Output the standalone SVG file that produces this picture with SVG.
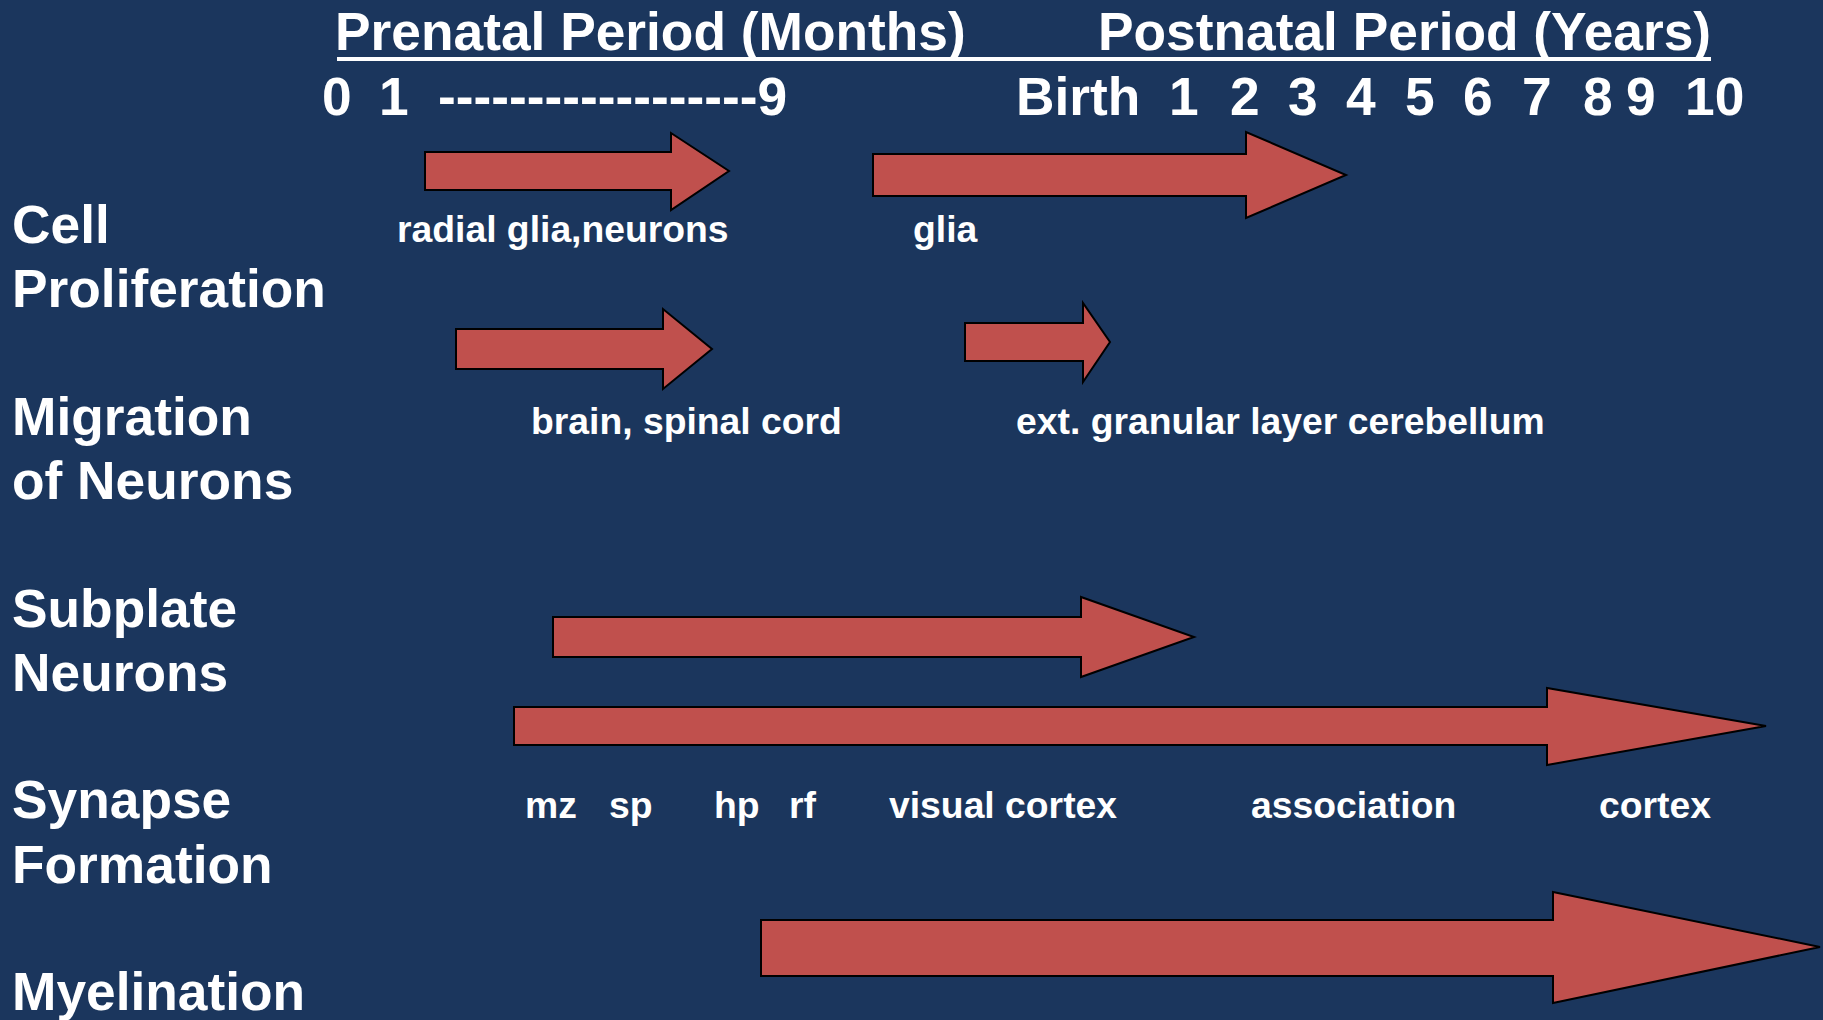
<svg xmlns="http://www.w3.org/2000/svg" width="1823" height="1020" viewBox="0 0 1823 1020">
<style>
text{font-family:"Liberation Sans",Arial,Helvetica,sans-serif;font-weight:bold;fill:#FFFFFF}
.big{font-size:53.3px}
.lbl{font-size:37.3px}
.arrow{fill:#C0504D;stroke:#000000;stroke-width:2;stroke-linejoin:miter}
</style>
<rect x="0" y="0" width="1823" height="1020" fill="#1B365D"/>
<g id="header">
<text class="big" x="335" y="50">Prenatal Period (Months)</text>
<text class="big" x="1098" y="50">Postnatal Period (Years)</text>
<rect x="337" y="57" width="1374" height="4" fill="#FFFFFF"/>
</g>
<g id="scale-prenatal">
<text class="big" x="322" y="115">0</text>
<text class="big" x="379" y="115">1</text>
<text class="big" x="438" y="115">------------------9</text>
</g>
<g id="scale-postnatal">
<text class="big" x="1016" y="115">Birth</text>
<text class="big" x="1169" y="115">1</text>
<text class="big" x="1230" y="115">2</text>
<text class="big" x="1288" y="115">3</text>
<text class="big" x="1346" y="115">4</text>
<text class="big" x="1405" y="115">5</text>
<text class="big" x="1463" y="115">6</text>
<text class="big" x="1522" y="115">7</text>
<text class="big" x="1583" y="115">8</text>
<text class="big" x="1626" y="115">9</text>
<text class="big" x="1685" y="115">10</text>
</g>
<g id="row-cell-proliferation">
<text class="big" x="12" y="243">Cell</text>
<text class="big" x="12" y="307">Proliferation</text>
</g>
<g id="row-migration">
<text class="big" x="12" y="435">Migration</text>
<text class="big" x="12" y="499">of Neurons</text>
</g>
<g id="row-subplate">
<text class="big" x="12" y="627">Subplate</text>
<text class="big" x="12" y="691">Neurons</text>
</g>
<g id="row-synapse">
<text class="big" x="12" y="818">Synapse</text>
<text class="big" x="12" y="883">Formation</text>
</g>
<g id="row-myelination">
<text class="big" x="12" y="1010">Myelination</text>
</g>
<g id="arrows">
<g id="arrow-radial-glia"><polygon class="arrow" points="425,152 671,152 671,133 729,171 671,210 671,190 425,190"/></g>
<g id="arrow-glia"><polygon class="arrow" points="873,154 1246,154 1246,132 1346,175 1246,218 1246,196 873,196"/></g>
<g id="arrow-brain"><polygon class="arrow" points="456,329 663,329 663,309 712,349 663,389 663,369 456,369"/></g>
<g id="arrow-ext-granular"><polygon class="arrow" points="965,323 1083,323 1083,303 1110,342 1083,382 1083,361 965,361"/></g>
<g id="arrow-subplate"><polygon class="arrow" points="553,617 1081,617 1081,597 1194,637 1081,677 1081,657 553,657"/></g>
<g id="arrow-synapse"><polygon class="arrow" points="514,707 1547,707 1547,688 1766,726 1547,765 1547,745 514,745"/></g>
<g id="arrow-myelination"><polygon class="arrow" points="761,920 1553,920 1553,892 1820,947 1553,1003 1553,976 761,976"/></g>
</g>
<g id="labels">
<text class="lbl" x="397" y="242">radial glia,neurons</text>
<text class="lbl" x="913" y="242">glia</text>
<text class="lbl" x="531" y="434">brain, spinal cord</text>
<text class="lbl" x="1016" y="434">ext. granular layer cerebellum</text>
<text class="lbl" x="525" y="818">mz</text>
<text class="lbl" x="609" y="818">sp</text>
<text class="lbl" x="714" y="818">hp</text>
<text class="lbl" x="789" y="818">rf</text>
<text class="lbl" x="889" y="818">visual cortex</text>
<text class="lbl" x="1251" y="818">association</text>
<text class="lbl" x="1599" y="818">cortex</text>
</g>
</svg>
